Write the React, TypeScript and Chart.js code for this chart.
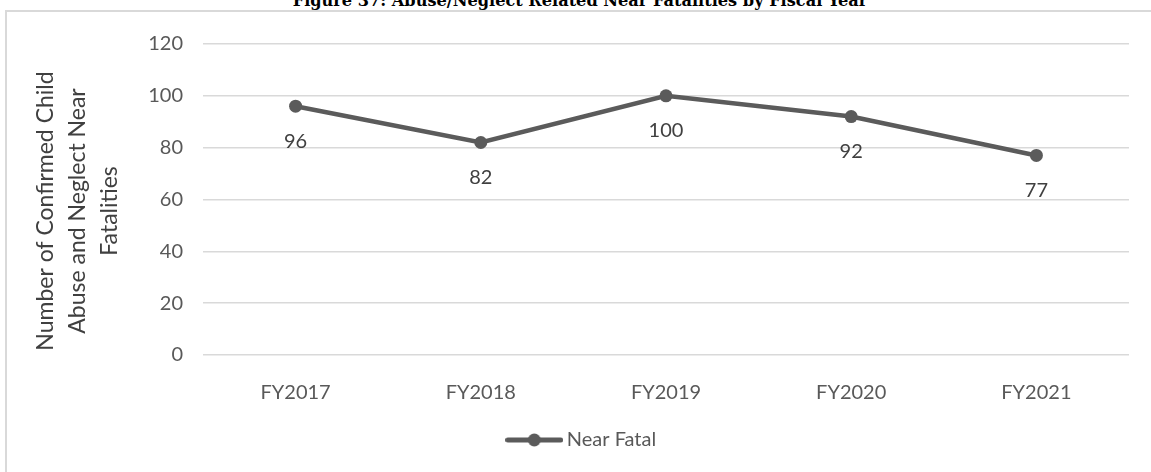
import React, { useEffect, useRef } from "react";
import { Chart, registerables } from "chart.js";

Chart.register(...registerables);

const titleText = "Figure 37: Abuse/Neglect Related Near Fatalities by Fiscal Year";
const categories = ["FY2017", "FY2018", "FY2019", "FY2020", "FY2021"];
const nearFatal = [96, 82, 100, 92, 77];
const seriesLabel = "Near Fatal";
const yTicks = [0, 20, 40, 60, 80, 100, 120];
const yTitleLines = ["Number of Confirmed Child", "Abuse and Neglect Near", "Fatalities"];

const LINE_COLOR = "#5b5b5b";
const TICK_COLOR = "#595959";
const LABEL_COLOR = "#404040";
const GRID_COLOR = "#d9d9d9";
const FONT = "Lato";
const TITLE_FONT = "'DejaVu Serif', serif";
const TITLE_WIDTH = 575;

const CANVAS_W = 1154;
const CANVAS_H = 460;

function makeMarker(): HTMLCanvasElement {
  const c = document.createElement("canvas");
  c.width = 58;
  c.height = 14;
  const g = c.getContext("2d")!;
  g.strokeStyle = LINE_COLOR;
  g.lineWidth = 5;
  g.lineCap = "round";
  g.beginPath();
  g.moveTo(2.5, 7);
  g.lineTo(55.5, 7);
  g.stroke();
  g.fillStyle = LINE_COLOR;
  g.beginPath();
  g.arc(29, 7, 6.5, 0, Math.PI * 2);
  g.fill();
  return c;
}

const dataLabelPlugin = {
  id: "dataLabels",
  afterDatasetsDraw(chart: any) {
    const ctx = chart.ctx;
    const meta = chart.getDatasetMeta(0);
    const values = chart.data.datasets[0].data;
    ctx.save();
    ctx.font = `20px ${FONT}`;
    ctx.fillStyle = LABEL_COLOR;
    ctx.textAlign = "center";
    ctx.textBaseline = "middle";
    meta.data.forEach((pt: any, i: number) => {
      ctx.fillText(String(values[i]), pt.x, pt.y + 35);
    });
    ctx.restore();
  },
};

const yTitlePlugin = {
  id: "yTitle",
  afterDraw(chart: any) {
    const ctx = chart.ctx;
    ctx.save();
    ctx.font = `23px ${FONT}`;
    ctx.fillStyle = LABEL_COLOR;
    ctx.textAlign = "center";
    ctx.textBaseline = "middle";
    const cy = 199;
    yTitleLines.forEach((line, i) => {
      ctx.save();
      ctx.translate(39 + i * 32, cy);
      ctx.rotate(-Math.PI / 2);
      ctx.fillText(line, 0, 0);
      ctx.restore();
    });
    ctx.restore();
  },
};

export default function App() {
  const ref = useRef<HTMLCanvasElement | null>(null);
  const titleRef = useRef<HTMLDivElement | null>(null);

  useEffect(() => {
    // fit title font size to the reference width
    if (titleRef.current) {
      const mc = document.createElement("canvas").getContext("2d")!;
      mc.font = `bold 20px 'DejaVu Serif'`;
      const w = mc.measureText(titleText).width;
      const size = (20 * TITLE_WIDTH) / w;
      const el = titleRef.current;
      el.style.fontSize = `${size}px`;
      el.style.lineHeight = `${size}px`;
      // DejaVu Serif ascent ~0.928, descent ~0.236 -> baseline at top + (1 - 1.164)/2*size + 0.928*size
      const baselineOffset = ((1 - 1.164) / 2 + 0.928) * size;
      el.style.top = `${7 - baselineOffset}px`;
    }
    if (!ref.current) return;
    const chart = new Chart(ref.current, {
      type: "line",
      data: {
        labels: categories,
        datasets: [
          {
            label: seriesLabel,
            data: nearFatal,
            borderColor: LINE_COLOR,
            backgroundColor: LINE_COLOR,
            borderWidth: 4.5,
            pointRadius: 6.5,
            pointBackgroundColor: LINE_COLOR,
            pointBorderColor: LINE_COLOR,
            pointBorderWidth: 0,
            tension: 0,
            yAxisID: "y",
          },
        ],
      },
      options: {
        responsive: false,
        animation: false,
        layout: { padding: { top: 27, left: 0, right: 0, bottom: 12 } },
        plugins: {
          title: { display: false },
          tooltip: { enabled: false },
          legend: {
            display: true,
            position: "bottom",
            labels: {
              usePointStyle: true,
              pointStyle: makeMarker() as any,
              pointStyleWidth: 45,
              padding: 10,
              color: TICK_COLOR,
              font: { family: FONT, size: 20 },
            },
          },
        },
        scales: {
          x: {
            offset: true,
            grid: { display: false },
            border: { display: false },
            ticks: {
              color: TICK_COLOR,
              font: { family: FONT, size: 20 },
              padding: 18,
              maxRotation: 0,
            },
            afterFit: (s: any) => {
              s.height = 65;
            },
          },
          y: {
            position: "left",
            min: yTicks[0],
            max: yTicks[yTicks.length - 1],
            grid: { color: GRID_COLOR, lineWidth: 1.6, drawTicks: false },
            border: { display: false },
            ticks: {
              stepSize: yTicks[1] - yTicks[0],
              color: TICK_COLOR,
              font: { family: FONT, size: 20 },
              padding: 20,
            },
            title: { display: false },
            afterFit: (s: any) => {
              s.width = 196;
            },
          },
          yRight: {
            position: "right",
            axis: "y",
            display: true,
            grid: { display: false },
            border: { display: false },
            ticks: { display: false },
            afterFit: (s: any) => {
              s.width = 32;
            },
          },
        },
      } as any,
      plugins: [dataLabelPlugin, yTitlePlugin],
    });
    return () => chart.destroy();
  }, []);

  return (
    <div
      style={{
        position: "absolute",
        left: 0,
        top: 0,
        width: 1151,
        height: 472,
        overflow: "hidden",
        background: "#ffffff",
      }}
    >
      <div
        ref={titleRef}
        style={{
          position: "absolute",
          left: 0,
          top: -10,
          width: 1160,
          textAlign: "center",
          fontFamily: TITLE_FONT,
          fontWeight: "bold",
          fontSize: 16,
          lineHeight: "16px",
          color: "#000",
          whiteSpace: "nowrap",
        }}
      >
        {titleText}
      </div>
      <div
        style={{
          position: "absolute",
          left: 5,
          top: 10,
          width: 1158,
          height: 470,
          border: `2px solid ${GRID_COLOR}`,
          boxSizing: "content-box",
        }}
      >
        <canvas ref={ref} width={CANVAS_W} height={CANVAS_H} style={{ display: "block" }} />
      </div>
    </div>
  );
}
